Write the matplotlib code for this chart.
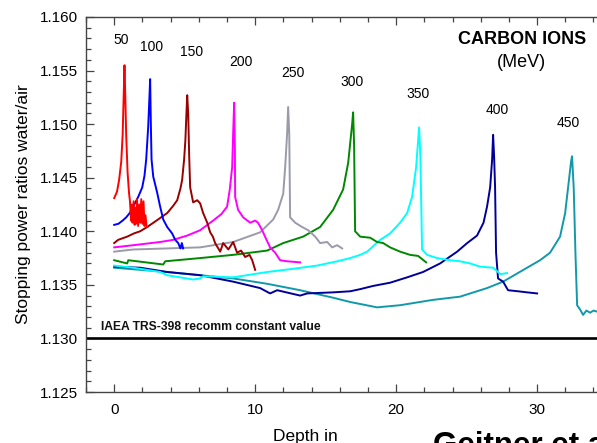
import numpy as np
import matplotlib
matplotlib.use("Agg")
import matplotlib.pyplot as plt
from matplotlib.ticker import MultipleLocator, FormatStrFormatter

plt.rcParams['font.family'] = ['Liberation Sans', 'DejaVu Sans']

energies = [50, 100, 150, 200, 250, 300, 350, 400, 450]

depth_50 = [0.0, 0.1, 0.2, 0.35, 0.5, 0.6, 0.68, 0.73, 0.78, 0.85, 0.95, 1.05, 1.12,
            1.2, 1.25, 1.3, 1.38, 1.45, 1.5, 1.55, 1.62, 1.7, 1.78, 1.85, 1.92, 2.0,
            2.08, 2.15, 2.22, 2.3, 2.35]
ratio_50 = [1.1431, 1.1434, 1.1437, 1.1448, 1.1465, 1.1490, 1.1530, 1.1555, 1.1530,
            1.1490, 1.1455, 1.1436, 1.1428, 1.1410, 1.1425, 1.1408, 1.1428, 1.1406,
            1.1422, 1.1407, 1.1430, 1.1405, 1.1425, 1.1408, 1.1430, 1.1407, 1.1428,
            1.1405, 1.1415, 1.1404, 1.1404]

depth_100 = [0.0, 0.3, 0.6, 0.85, 1.1, 1.35, 1.7, 1.99, 2.15, 2.27, 2.41, 2.5, 2.55,
             2.6, 2.65, 2.77, 3.05, 3.26, 3.48, 3.76, 4.11, 4.33, 4.54, 4.7, 4.8, 4.89]
ratio_100 = [1.1406, 1.1407, 1.1410, 1.1413, 1.1417, 1.1423, 1.1432, 1.1441, 1.1452,
             1.1467, 1.1497, 1.1525, 1.1542, 1.1500, 1.1467, 1.1451, 1.1436, 1.1423,
             1.1411, 1.1404, 1.1398, 1.1392, 1.1389, 1.1384, 1.1389, 1.1384]

depth_150 = [0.0, 0.28, 0.92, 1.4, 1.84, 2.34, 3.0, 3.76, 4.2, 4.47, 4.7, 4.82, 4.96,
             5.05, 5.11, 5.18, 5.25, 5.32, 5.39, 5.6, 5.89, 6.1, 6.31, 6.6, 6.81, 7.0,
             7.16, 7.52, 7.73, 8.1, 8.44, 8.72, 9.0, 9.29, 9.6, 9.79, 10.0]
ratio_150 = [1.1389, 1.1392, 1.1395, 1.1398, 1.1400, 1.1404, 1.1410, 1.1417, 1.1424,
             1.1429, 1.1440, 1.1448, 1.1467, 1.1485, 1.1505, 1.1527, 1.1510, 1.1470,
             1.1441, 1.1427, 1.1429, 1.1426, 1.1417, 1.1408, 1.1399, 1.1395, 1.1389,
             1.1381, 1.1389, 1.1383, 1.1390, 1.1380, 1.1382, 1.1376, 1.1378, 1.1373,
             1.1364]

depth_200 = [0.0, 1.35, 3.26, 4.18, 5.18, 6.1, 7.02, 7.6, 8.01, 8.2, 8.37, 8.44, 8.51,
             8.56, 8.58, 8.79, 9.15, 9.65, 10.0, 10.2, 10.5, 10.7, 11.06, 11.42, 11.77,
             12.27, 13.19]
ratio_200 = [1.1385, 1.1387, 1.1390, 1.1392, 1.1396, 1.1401, 1.1410, 1.1416, 1.1423,
             1.1439, 1.1460, 1.1492, 1.1520, 1.1480, 1.1432, 1.1420, 1.1413, 1.1408,
             1.1410, 1.1408, 1.1401, 1.1395, 1.1385, 1.1380, 1.1373, 1.1372, 1.1371]

depth_250 = [0.0, 1.35, 3.76, 6.1, 8.44, 10.35, 11.28, 11.63, 11.99, 12.13, 12.27,
             12.34, 12.42, 12.48, 12.84, 13.33, 13.76, 14.26, 14.61, 15.11, 15.46,
             15.82, 16.17]
ratio_250 = [1.1381, 1.1383, 1.1384, 1.1385, 1.1390, 1.1399, 1.1411, 1.1420, 1.1435,
             1.1460, 1.1492, 1.1516, 1.1490, 1.1413, 1.1408, 1.1404, 1.1401, 1.1395,
             1.1389, 1.1390, 1.1385, 1.1387, 1.1384]

depth_300 = [0.0, 0.92, 1.0, 3.48, 3.62, 6.1, 8.44, 10.85, 11.99, 13.4, 14.61, 15.53,
             16.24, 16.6, 16.88, 16.95, 17.02, 17.09, 17.45, 18.16, 18.65, 19.08, 19.57,
             20.28, 20.99, 21.56, 22.13]
ratio_300 = [1.1373, 1.1370, 1.1373, 1.1369, 1.1372, 1.1375, 1.1378, 1.1382, 1.1389,
             1.1395, 1.1404, 1.1420, 1.1439, 1.1464, 1.1500, 1.1511, 1.1480, 1.1400,
             1.1395, 1.1394, 1.1390, 1.1389, 1.1385, 1.1381, 1.1378, 1.1377, 1.1371]

depth_350 = [0.0, 1.35, 3.26, 3.76, 5.6, 6.1, 6.31, 8.44, 10.85, 12.7, 14.4, 15.82,
             16.74, 17.45, 17.94, 18.87, 19.57, 20.28, 20.78, 21.13, 21.42, 21.63, 21.72,
             21.84, 22.2, 22.91, 23.83, 24.54, 25.25, 25.96, 26.88, 27.4, 27.87]
ratio_350 = [1.1368, 1.1366, 1.1362, 1.1359, 1.1355, 1.1356, 1.1358, 1.1357, 1.1362,
             1.1365, 1.1368, 1.1372, 1.1375, 1.1378, 1.1381, 1.1392, 1.1398, 1.1408,
             1.1417, 1.1432, 1.1460, 1.1497, 1.1470, 1.1383, 1.1378, 1.1375, 1.1373,
             1.1372, 1.1370, 1.1367, 1.1366, 1.1360, 1.1361]

depth_400 = [0.0, 1.84, 3.76, 6.1, 8.44, 10.35, 11.06, 11.56, 13.19, 13.69, 15.53,
             16.74, 17.45, 18.37, 19.57, 20.78, 21.91, 23.12, 24.33, 25.04, 25.74, 26.2,
             26.45, 26.67, 26.81, 26.88, 26.95, 27.02, 27.09, 27.23, 27.59, 27.94, 28.65,
             29.29, 30.0]
ratio_400 = [1.1367, 1.1366, 1.1362, 1.1359, 1.1353, 1.1347, 1.1342, 1.1345, 1.1340,
             1.1342, 1.1343, 1.1344, 1.1346, 1.1349, 1.1352, 1.1357, 1.1362, 1.1370,
             1.1381, 1.1389, 1.1396, 1.1408, 1.1423, 1.1441, 1.1467, 1.1490, 1.1470,
             1.1441, 1.1380, 1.1356, 1.1353, 1.1345, 1.1344, 1.1343, 1.1342]

depth_450 = [0.0, 3.76, 6.1, 8.44, 10.85, 13.19, 15.53, 16.74, 18.65, 20.28, 22.62,
             24.54, 26.45, 27.59, 29.29, 30.21, 30.92, 31.63, 31.99, 32.2, 32.41, 32.48,
             32.6, 32.72, 32.84, 33.05, 33.26, 33.5, 33.76, 34.0, 34.26]
ratio_450 = [1.1366, 1.1362, 1.1359, 1.1356, 1.1351, 1.1345, 1.1338, 1.1334, 1.1329,
             1.1331, 1.1336, 1.1339, 1.1347, 1.1353, 1.1366, 1.1373, 1.1380, 1.1395,
             1.1417, 1.1441, 1.1465, 1.1470, 1.1440, 1.1380, 1.1331, 1.1327, 1.1322,
             1.1326, 1.1324, 1.1326, 1.1325]

iaea_value = 1.130

depths = [depth_50, depth_100, depth_150, depth_200, depth_250,
          depth_300, depth_350, depth_400, depth_450]
ratios = [ratio_50, ratio_100, ratio_150, ratio_200, ratio_250,
          ratio_300, ratio_350, ratio_400, ratio_450]
colors = ['#FF0000', '#0000FF', '#990000', '#FF00FF', '#9A9AAA',
          '#008800', '#00FFFF', '#000099', '#1199AA']
# where the energy labels sit (data coords)
label_pos = [(0.5, 1.1579), (2.62, 1.1572), (5.46, 1.1567), (9.0, 1.1558),
             (12.7, 1.1548), (16.88, 1.1539), (21.56, 1.1528), (27.16, 1.1513),
             (32.2, 1.1501)]

fig = plt.figure(figsize=(5.97, 4.43), dpi=100)
ax = fig.add_axes([86/597, 51/443, 511/597, 375/443])

for d, r, c in zip(reversed(depths), reversed(ratios), reversed(colors)):
    ax.plot(d, r, color=c, lw=1.4)

ax.axhline(iaea_value, color='black', lw=1.9)
ax.text(-0.92, 1.1311, 'IAEA TRS-398 recomm constant value', fontsize=8.7,
        fontweight='bold', va='center', ha='left', color='#111111')

for e, (x, y) in zip(energies, label_pos):
    ax.text(x, y, str(e), fontsize=10, ha='center', va='center')

ax.text(0.853, 0.939, 'CARBON IONS', transform=ax.transAxes, fontsize=13,
        fontweight='bold', ha='center', va='center')
ax.text(0.853, 0.880, '(MeV)', transform=ax.transAxes, fontsize=13,
        ha='center', va='center')

ax.set_xlim(-2.0, 34.25)
ax.set_ylim(1.125, 1.160)
ax.xaxis.set_major_locator(MultipleLocator(10))
ax.xaxis.set_minor_locator(MultipleLocator(2))
ax.yaxis.set_major_locator(MultipleLocator(0.005))
ax.yaxis.set_minor_locator(MultipleLocator(0.001))
ax.yaxis.set_major_formatter(FormatStrFormatter('%.3f'))
ax.tick_params(which='both', direction='in', top=True, right=False,
               labelsize=11, color='#444444')
ax.tick_params(which='major', length=5.5, width=0.9)
ax.tick_params(which='minor', length=3.5, width=0.9)
ax.tick_params(axis='x', pad=8)
ax.tick_params(axis='y', pad=6)
ax.spines['right'].set_visible(False)
for s in ['left', 'bottom', 'top']:
    ax.spines[s].set_color('#444444')
    ax.spines[s].set_linewidth(1.0)

fig.text(24/597, 1 - 204/443, 'Stopping power ratios water/air', rotation=90,
         fontsize=12.5, ha='center', va='center')
fig.text(305/597, 1 - 437/443, 'Depth in', fontsize=12.5, ha='center', va='center')
# the reference cuts this label off at the bottom/right edge
fig.text(433/597, -11/443, 'Geitner et al', fontsize=22.5, fontweight='bold',
         ha='left', va='baseline')

fig.savefig('out.png', dpi=100)
